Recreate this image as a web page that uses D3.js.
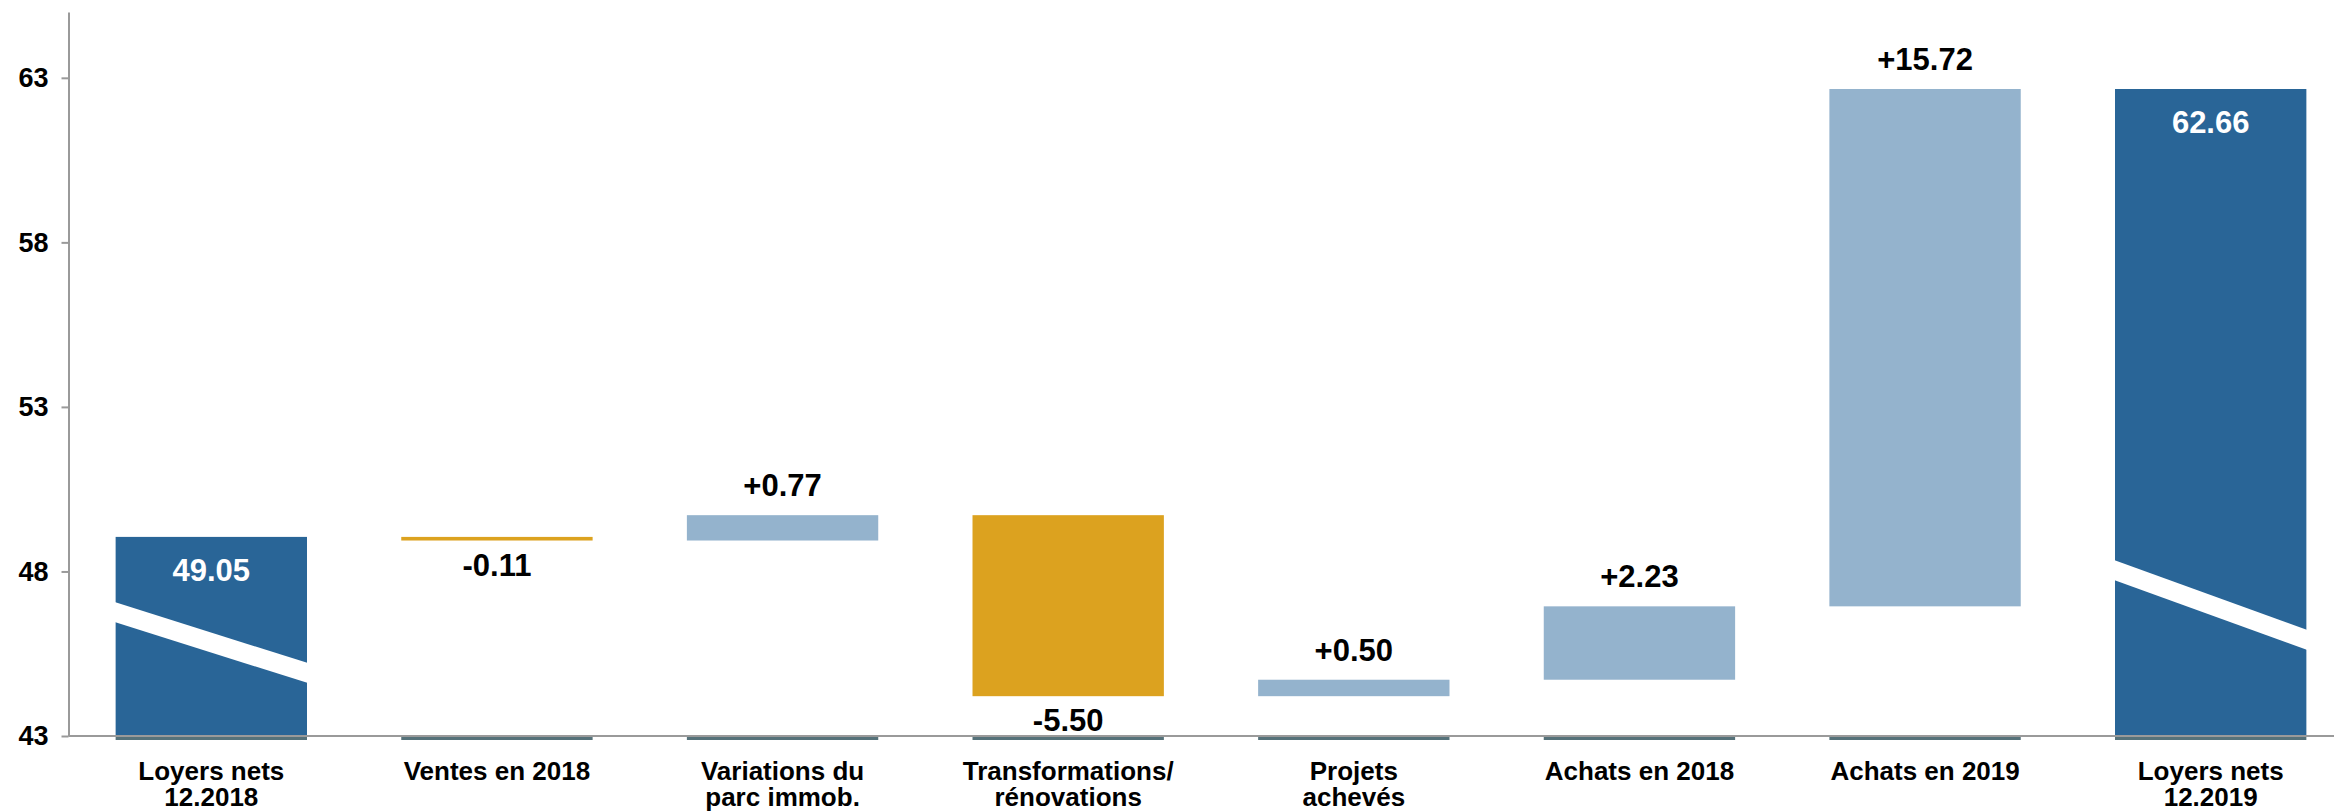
<!DOCTYPE html>
<html>
<head>
<meta charset="utf-8">
<script src="https://cdn.jsdelivr.net/npm/d3@7"></script>
<style>
  body { margin: 0; background: #fff; }
  svg { display: block; font-family: "Liberation Sans", Arial, sans-serif; }
</style>
</head>
<body>
<div id="chart"></div>
<script>
// waterfall: net rents 2018 -> 2019
const categories = [
  ['Loyers nets', '12.2018'],
  ['Ventes en 2018'],
  ['Variations du', 'parc immob.'],
  ['Transformations/', 'rénovations'],
  ['Projets', 'achevés'],
  ['Achats en 2018'],
  ['Achats en 2019'],
  ['Loyers nets', '12.2019']
]
const values = [49.05, -0.11, 0.77, -5.50, 0.50, 2.23, 15.72, 62.66]
const kinds = ['total', 'delta', 'delta', 'delta', 'delta', 'delta', 'delta', 'total']
const yTicks = [43, 48, 53, 58, 63]
const yDomain = [43, 65]

const COLORS = { total: '#296597', up: '#94b3cd', down: '#dca21f', base: '#56727a', axis: '#9a9a9a' }

const width = 2334, height = 812

// running totals
let run = 0
const rows = values.map((v, i) => {
  let y0, y1
  if (kinds[i] === 'total') { y0 = yDomain[0]; y1 = v; run = v }
  else { y0 = run; y1 = run + v; run = y1 }
  return { i, v, kind: kinds[i], lo: Math.min(y0, y1), hi: Math.max(y0, y1), label: categories[i] }
})

const svg = d3.select('#chart').append('svg')
  .attr('width', width).attr('height', height)

const x = d3.scaleBand().domain(d3.range(categories.length))
  .range([68.5, 2353.5]).paddingInner(0.33).paddingOuter(0.165)
const y = d3.scaleLinear().domain(yDomain).range([736, 12])

// plain hyphen for negatives, like the original
const fmt = v => (v < 0 ? '-' : '') + Math.abs(v).toFixed(2)

// little dark base under every column
svg.append('g').selectAll('rect')
  .data(rows).join('rect')
  .attr('x', d => x(d.i)).attr('width', x.bandwidth())
  .attr('y', y(yDomain[0]) + 1).attr('height', 3)
  .attr('fill', COLORS.base)

// bars
svg.append('g').selectAll('rect')
  .data(rows).join('rect')
  .attr('x', d => x(d.i)).attr('width', x.bandwidth())
  .attr('y', d => y(d.hi))
  .attr('height', d => Math.max(3, y(d.lo) - y(d.hi)))
  .attr('fill', d => d.kind === 'total' ? COLORS.total : (d.v < 0 ? COLORS.down : COLORS.up))

// axis break on the total columns (value at left upper edge, drop in px)
const BREAKS = { 0: { at: 47.07, drop: 61 }, 7: { at: 48.35, drop: 70 } }
const bandThick = 20
rows.filter(d => BREAKS[d.i]).forEach(d => {
  const b = BREAKS[d.i]
  const x0 = x(d.i) - 1, x1 = x(d.i) + x.bandwidth() + 1
  const yl = y(b.at), yr = y(b.at) + b.drop
  svg.append('path')
    .attr('d', `M${x0},${yl}L${x1},${yr}L${x1},${yr + bandThick}L${x0},${yl + bandThick}Z`)
    .attr('fill', '#fff')
})

// axes
const yAxis = svg.append('g')
  .attr('transform', `translate(${x.range()[0]},0)`)
  .call(d3.axisLeft(y).tickValues(yTicks).tickSize(7).tickSizeOuter(0).tickPadding(13))
yAxis.select('.domain').attr('stroke', COLORS.axis).attr('stroke-width', 2)
yAxis.selectAll('.tick line').attr('stroke', COLORS.axis).attr('stroke-width', 2)
yAxis.selectAll('.tick text')
  .attr('fill', '#000').attr('font-size', 27).attr('font-weight', 'bold')
  .attr('font-family', '"Liberation Sans", Arial, sans-serif')

const xAxis = svg.append('g')
  .attr('transform', `translate(0,${y(yDomain[0])})`)
  .call(d3.axisBottom(x).tickSize(0).tickSizeOuter(0).tickFormat(''))
xAxis.select('.domain').attr('stroke', COLORS.axis).attr('stroke-width', 2)
  .attr('d', `M${x.range()[0]},0H${width}`)

// category labels
const cat = svg.append('g').selectAll('text')
  .data(rows).join('text')
  .attr('x', d => x(d.i) + x.bandwidth() / 2)
  .attr('y', 780)
  .attr('text-anchor', 'middle')
  .attr('font-size', 26).attr('font-weight', 'bold').attr('fill', '#000')
cat.selectAll('tspan')
  .data(d => d.label.map(t => ({ t, x: x(d.i) + x.bandwidth() / 2 })))
  .join('tspan')
  .attr('x', t => t.x)
  .attr('dy', (t, k) => k === 0 ? 0 : 26)
  .text(t => t.t)

// value labels
svg.append('g').selectAll('text')
  .data(rows).join('text')
  .attr('x', d => x(d.i) + x.bandwidth() / 2)
  .attr('y', d => {
    if (d.kind === 'total') return y(d.hi) + 44
    if (d.v < 0) return y(d.lo) + 35
    return y(d.hi) - 19
  })
  .attr('text-anchor', 'middle')
  .attr('font-size', 31).attr('font-weight', 'bold')
  .attr('fill', d => d.kind === 'total' ? '#fff' : '#000')
  .text(d => d.kind === 'total' ? fmt(d.v) : (d.v > 0 ? '+' : '') + fmt(d.v))
</script>
</body>
</html>
